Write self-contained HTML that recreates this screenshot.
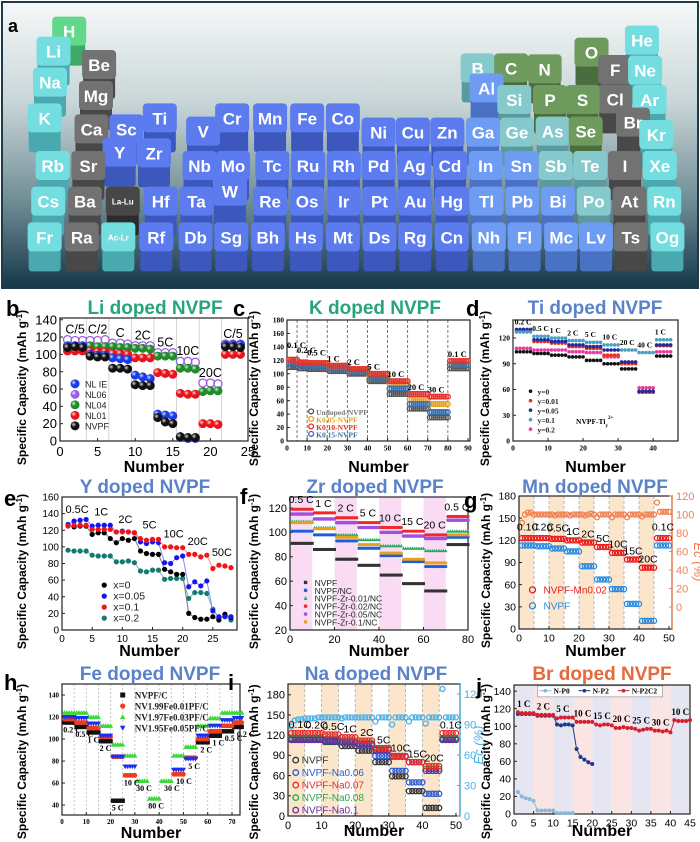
<!DOCTYPE html>
<html><head><meta charset="utf-8"><title>Doped NVPF</title>
<style>
html,body{margin:0;padding:0;background:#fff;}
svg{display:block;font-family:"Liberation Sans",sans-serif;}
</style></head>
<body>
<svg id="fig" width="700" height="842" viewBox="0 0 700 842" xmlns="http://www.w3.org/2000/svg">
<defs>
<linearGradient id="bgA" x1="0" y1="0" x2="0" y2="1">
<stop offset="0" stop-color="#f6f8f8"/><stop offset="0.35" stop-color="#c9d6d8"/><stop offset="0.7" stop-color="#6f8c94"/><stop offset="1" stop-color="#16384a"/>
</linearGradient>
<radialGradient id="shine" cx="0.35" cy="0.35" r="0.7"><stop offset="0" stop-color="#fff" stop-opacity="0.85"/><stop offset="0.4" stop-color="#fff" stop-opacity="0"/></radialGradient>
</defs>
<rect x="2" y="2" width="696" height="286" fill="url(#bgA)" stroke="#1c3c4c" stroke-width="2"/>
<g id="ptable"></g>
<text x="8" y="32" font-size="18" font-weight="bold">a</text>
</svg>
<script>
// ===== Chart data =====
const bSeriesNames=['NL IE','NL06','NL04','NL01','NVPF'];
const bNVPF=[108,109,108,98,97,97,84,84,83,65,64,64,27,22,20,5,4,4,null,null,null,109,109,108];
const bNL01=[104,104,104,104,103,103,101,101,100,96,96,96,79,78,77,55,54,54,20,20,19,100,100,100];
const bNL04=[110,110,110,110,109,109,109,108,108,107,107,106,98,98,98,84,84,83,57,58,58,110,110,110];
const bNL06=[117,116,116,116,116,117,113,113,112,110,110,110,102,102,102,92,92,91,67,67,66,112,112,112];
const bNLIE=[110,110,110,100,99,99,96,95,94,76,74,72,31,30,29,4,3,3,null,null,null,111,111,111];
const bRates=['C/5','C/2','C','2C','5C','10C','20C','C/5'];
const cStart=[1,6,11,21,31,41,51,61,71,81];
const cEnd=[5,10,20,30,40,50,60,70,80,90];
const cRates=['0.1 C','0.2 C','0.5 C','1 C','2 C','5 C','10 C','20 C','30 C','0.1 C'];
const cUndoped=[110,108,107,104,100,89,70,48,35,108];
const cK005=[118,116,114,110,105,97,85,62,55,115];
const cK010=[121,117,116,112,107,100,89,70,66,119];
const cK015=[115,112,111,108,103,92,78,55,43,113];
const dStart=[1,6,11,16,21,26,31,36,41];
const dEnd=[5,10,15,20,25,30,35,40,45];
const dRates=['0.2 C','0.5 C','1 C','2 C','5 C','10 C','20 C','40 C','1 C'];
const dY0=[104,102,100,98,94,90,84,57,99];
const dY001=[128,116,114,110,108,100,90,57,111];
const dY005=[130,118,116,112,110,106,92,58,112];
const dY01=[127,122,120,117,115,112,106,103,118];
const dY02=[108,106,106,104,103,98,92,62,104];
const eX0=[126,124,125,125,115,117,117,110,105,110,108,110,95,92,91,91,73,70,67,67,20,15,13,13,16,12,19,15];
const eX005=[127,131,132,133,125,126,126,126,118,119,118,117,106,104,106,105,81,80,87,89,52,58,53,59,23,16,16,16];
const eX01=[125,126,126,126,121,121,121,121,118,118,118,117,110,108,109,109,100,100,99,99,91,91,88,90,74,78,77,75];
const eX02=[96,95,95,95,90,89,89,89,82,82,83,81,71,70,72,72,61,62,62,62,38,45,45,44,25,15,17,12];
const eRates=['0.5C','1C','2C','5C','10C','20C','50C'];
const fStart=[1,11,21,31,41,51,61,71];
const fEnd=[10,20,30,40,50,60,70,80];
const fRates=['0.5 C','1 C','2 C','5 C','10 C','15 C','20 C','0.5 C'];
const fNVPF=[91,86,78,73,65,58,52,90];
const fNC=[101,98,93,87,81,76,72,96];
const fZr001=[109,104,98,94,89,87,85,101];
const fZr002=[119,116,112,108,104,101,98,113];
const fZr005=[115,111,108,104,100,97,95,110];
const fZr01=[108,103,96,90,83,78,75,98];
const gStart=[1,6,11,16,21,26,31,36,41,46];
const gEnd=[5,10,15,20,25,30,35,40,45,50];
const gRates=['0.1C','0.2C','0.5C','1C','2C','5C','10C','15C','20C','0.1C'];
const gMn=[123,123,122,120,117,111,103,94,83,123];
const gNVPF=[113,112,109,105,85,67,54,34,11,113];
const gEc=[91,100,102,102,100,100,100,100,100,100,100,99,100,100,100,100,99,100,100,100,100,99,100,101,100,97,100,100,100,100,97,100,100,100,100,97,100,100,100,100,98,100,100,100,100,113,103,103,103,103];
const hStart=[1,6,11,16,21,26,31,36,41,46,51,56,61,66,71];
const hEnd=[5,10,15,20,25,30,35,40,45,50,55,60,65,70,74];
const hRates=['0.2 C','0.5 C','1 C','2 C','5 C','10 C','30 C','80 C','30 C','10 C','5 C','2 C','1 C','0.5 C','0.2 C'];
const hNVPF=[115,111,106,98,44,null,null,null,null,null,null,97,103,107,111];
const hFe1=[118,115,110,102,84,67,null,null,null,68,83,100,107,112,115];
const hFe2=[124,124,120,112,95,85,62,46,62,85,93,112,119,124,124];
const hFe3=[120,119,114,103,84,75,null,null,null,72,82,103,112,117,119];
const iStart=[1,6,11,16,21,26,31,36,41,46];
const iEnd=[5,10,15,20,25,30,35,40,45,50];
const iRates=['0.1C','0.2C','0.5C','1C','2C','5C','10C','15C','20C','0.1C'];
const iNVPF=[114,114,110,104,97,80,59,37,12,114];
const iNa006=[113,113,111,109,105,89,67,50,33,113];
const iNa007=[123,123,121,117,112,101,89,80,74,123];
const iNa008=[116,116,114,112,108,100,89,80,70,116];
const iNa01=[113,113,112,110,107,98,88,80,67,113];
const iEc=[88,94,95,95,96,96,96,96,97,97,97,97,97,97,97,96,97,97,97,97,97,97,97,97,97,93,97,97,97,97,90,97,97,97,97,93,97,97,97,97,91,97,97,97,97,125,97,97,97,97];
const jRates=['1 C','2 C','5 C','10 C','15 C','20 C','25 C','30 C','10 C'];
const jP0=[25,20,18,17,15,4,4,4,4,4,1,1,1,1,1];
const jP2=[114,114,114,114,114,112,112,112,112,112,102,101,102,102,101,74,65,62,59,57];
const jP2C2=[116,115,115,115,115,113,113,113,113,113,109,110,110,110,110,105,105,105,105,105,102,101,102,102,101,98,98,99,98,98,97,95,96,97,97,95,95,94,95,93,107,106,106,106,107];

const NS='http://www.w3.org/2000/svg';
const svg=document.getElementById('fig');
function el(tag,parent){const e=document.createElementNS(NS,tag);parent.appendChild(e);return e;}
function at(e,o){for(const k in o)e.setAttribute(k,o[k]);return e;}
function txt(parent,x,y,s,o){const t=el('text',parent);at(t,Object.assign({x:x,y:y},o||{}));t.textContent=s;return t;}
function expand(st,en,vals){const p=[];for(let i=0;i<vals.length;i++){if(vals[i]==null)continue;for(let c=st[i];c<=en[i];c++)p.push([c,vals[i]]);}return p;}
function seq(vals){const p=[];vals.forEach((v,i)=>{if(v!=null)p.push([i+1,v]);});return p;}

const COL={cy:['#74dde0','#49a9ae'],te:['#86c9cc','#5a9a9e'],gr:['#6f9a5e','#4b6d3e'],ga:['#727272','#484848'],dk:['#474747','#2c2c2c'],lb:['#6e9cf3','#4a72c4'],bl:['#5b7bef','#3d58bd'],h:['#62d98a','#3fa866']};
const tiles=[['H',155,95,'h'],['He',1438,122,'cy'],
['Li',120,155,'cy'],['Be',222,195,'ga'],['B',1070,205,'te'],['C',1145,205,'gr'],['N',1220,208,'gr'],['O',1325,158,'gr'],['F',1378,210,'ga'],['Ne',1445,212,'cy'],
['Na',112,248,'cy'],['Mg',215,288,'ga'],['Al',1090,265,'lb'],['Si',1152,300,'te'],['P',1232,300,'gr'],['S',1305,300,'gr'],['Cl',1378,298,'ga'],['Ar',1455,300,'cy'],
['K',100,355,'cy'],['Ti',358,355,'bl'],['Cr',520,355,'bl'],['Mn',605,355,'bl'],['Fe',688,355,'bl'],['Co',768,355,'bl'],['Br',1418,368,'ga'],
['Ca',205,388,'ga'],['Sc',283,388,'bl'],['V',455,395,'bl'],['Ni',848,398,'bl'],['Cu',925,398,'bl'],['Zn',1002,398,'bl'],['Ga',1082,398,'lb'],['Ge',1158,398,'te'],['As',1238,395,'te'],['Se',1312,395,'gr'],['Kr',1470,405,'cy'],
['Y',268,458,'bl'],['Zr',345,460,'bl'],
['Rb',118,498,'cy'],['Sr',198,498,'ga'],['Nb',447,498,'bl'],['Mo',522,498,'bl'],['Tc',610,498,'bl'],['Ru',690,498,'bl'],['Rh',770,498,'bl'],['Pd',848,498,'bl'],['Ag',928,498,'bl'],['Cd',1008,498,'bl'],['In',1088,498,'lb'],['Sn',1168,498,'lb'],['Sb',1245,498,'te'],['Te',1322,498,'te'],['I',1400,498,'ga'],['Xe',1478,498,'cy'],
['W',515,575,'bl'],
['Cs',108,605,'cy'],['Ba',190,605,'ga'],['La-Lu',275,605,'dk'],['Hf',360,605,'bl'],['Ta',440,605,'bl'],['Re',605,605,'bl'],['Os',688,605,'bl'],['Ir',770,605,'bl'],['Pt',850,605,'bl'],['Au',930,605,'bl'],['Hg',1012,605,'bl'],['Tl',1090,605,'lb'],['Pb',1170,605,'lb'],['Bi',1250,605,'lb'],['Po',1330,605,'te'],['At',1410,605,'ga'],['Rn',1488,605,'cy'],
['Fr',100,712,'cy'],['Ra',183,712,'ga'],['Ac-Lr',265,712,'cy'],['Rf',350,712,'bl'],['Db',438,712,'bl'],['Sg',518,712,'bl'],['Bh',600,712,'bl'],['Hs',685,712,'bl'],['Mt',768,712,'bl'],['Ds',850,712,'bl'],['Rg',930,712,'bl'],['Cn',1012,712,'bl'],['Nh',1095,712,'lb'],['Fl',1175,712,'lb'],['Mc',1257,712,'lb'],['Lv',1335,712,'lb'],['Ts',1413,712,'ga'],['Og',1495,712,'cy']];
const pt=document.getElementById('ptable');
tiles.slice().sort((a,b)=>a[2]-b[2]).forEach(t=>{
  const cx=t[1]/2.24, cy=t[2]/3, c=COL[t[3]];
  const g=el('g',pt);
  
  
  const h=Math.min(42,286-(cy-8));
  at(el('rect',g),{x:cx-16,y:cy-8,width:32,height:h,rx:3,fill:c[1]});
  at(el('rect',g),{x:cx-17,y:cy-15,width:34,height:29,rx:4,fill:c[0]});
  const small=t[0].length>2;
  txt(g,cx,cy+(small?3:6),t[0],{'text-anchor':'middle','font-size':small?8:17,'font-weight':'bold',fill:'#fff'});
});

function panel(P){
  const g=el('g',svg);
  
  
  const sx=v=>P.L+(v-P.xmin)/(P.xmax-P.xmin)*(P.R-P.L);
  const sy=v=>P.B-(v-P.ymin)/(P.ymax-P.ymin)*(P.B-P.T);
  (P.shade||[]).forEach(s=>{
    const r=el('rect',g);at(r,{x:sx(s[0]),y:P.T,width:sx(s[1])-sx(s[0]),height:P.B-P.T,fill:s[2]});
    
    
  });
  (P.vlines||[]).forEach(v=>{
    const l=el('line',g);at(l,{x1:sx(v),x2:sx(v),y1:P.T,y2:P.B,stroke:P.vcol||'#999','stroke-width':0.8,'stroke-dasharray':P.vdash||'3,2'});
    
    
  });
  const box=el('rect',g);at(box,{x:P.L,y:P.T,width:P.R-P.L,height:P.B-P.T,fill:'none',stroke:'#222','stroke-width':1.2});
  
  
  const tf=P.tf||{};
  P.xt.forEach(v=>{
    at(el('line',g),{x1:sx(v),x2:sx(v),y1:P.B,y2:P.B-3,stroke:'#222','stroke-width':1});
    const t=txt(g,sx(v),P.B+P.fs+2,String(v),Object.assign({'text-anchor':'middle','font-size':P.fs},tf));
    
    
  });
  P.yt.forEach(v=>{
    at(el('line',g),{x1:P.L,x2:P.L+3,y1:sy(v),y2:sy(v),stroke:'#222','stroke-width':1});
    const t=txt(g,P.L-3,sy(v)+P.fs*0.35,String(v),Object.assign({'text-anchor':'end','font-size':P.fs},tf));
    
    
  });
  const xt=txt(g,(P.L+P.R)/2,P.xly,'Number',{'text-anchor':'middle','font-size':16,'font-weight':'bold'});
  
  
  const yc=(P.T+P.B)/2+(P.yoff||8);
  const yt=txt(g,P.ylx,yc,'',{'text-anchor':'middle','font-size':12,'font-weight':'bold',transform:'rotate(-90 '+P.ylx+' '+yc+')'});
  yt.innerHTML='Specific Capacity (mAh g<tspan dy="-4" font-size="8">-1</tspan><tspan dy="4">)</tspan>';
  
  
  const tt=txt(g,P.tx,P.ty,P.title,{'text-anchor':'middle','font-size':19,'font-weight':'bold',fill:P.tc});
  
  
  const pl=txt(g,P.lx,P.ly,P.letter,{'font-size':22,'font-weight':'bold'});
  
  
  return {g,sx,sy,P};
}
function mark(g,kind,x,y,col,r){
  let e;
  if(kind==='ball'){e=el('g',g);at(el('circle',e),{cx:x,cy:y,r:r,fill:col});at(el('circle',e),{cx:x,cy:y,r:r,fill:'url(#shine)'});}
  else if(kind==='open'){e=el('circle',g);at(e,{cx:x,cy:y,r:r,fill:'none',stroke:col,'stroke-width':1.3});}
  else if(kind==='dot'){e=el('circle',g);at(e,{cx:x,cy:y,r:r,fill:col});}
  else if(kind==='sq'){e=el('rect',g);at(e,{x:x-r,y:y-r,width:2*r,height:2*r,fill:col});}
  else if(kind==='tri'){e=el('polygon',g);at(e,{points:(x-r)+','+(y+r*0.8)+' '+(x+r)+','+(y+r*0.8)+' '+x+','+(y-r),fill:col});}
  else {e=el('polygon',g);at(e,{points:(x-r)+','+(y-r*0.8)+' '+(x+r)+','+(y-r*0.8)+' '+x+','+(y+r),fill:col});}
  
  
  return e;
}
function series(C,name,pts,kind,col,r,line,syf){
  const g=el('g',C.g);
  
  
  const fy=syf||C.sy;
  if(line){const pl=el('polyline',g);at(pl,{points:pts.map(p=>C.sx(p[0])+','+fy(p[1])).join(' '),fill:'none',stroke:line,'stroke-width':1});
    
    }
  pts.forEach(p=>mark(g,kind,C.sx(p[0]),fy(p[1]),col,r));
}
function rateLabels(C,labels,xs,ys,o){
  labels.forEach((s,i)=>{const t=txt(C.g,C.sx(xs[i]),C.sy(ys[i]),s,o);
    
    });
}
function legend(C,items,x,y,dy,o){
  items.forEach((it,i)=>{
    const g=el('g',C.g);
    
    
    mark(g,it[1],x,y+i*dy,it[2],it[3]);
    txt(g,x+(o.gap||10),y+i*dy+3.5,it[0],Object.assign({},o.t,{fill:it[4]||'#222'}));
  });
}
const SERIF={'font-family':'Liberation Serif,serif','font-weight':'bold'};
function maxAt(arrs,i){let m=-1e9;arrs.forEach(a=>{if(a[i]!=null&&a[i]>m)m=a[i];});return m;}
function minAt(arrs,i){let m=1e9;arrs.forEach(a=>{if(a[i]!=null&&a[i]<m)m=a[i];});return m;}

// b
(function(){
const C=panel({name:'chart-li-doped',L:60,R:248,T:318,B:441,xmin:0,xmax:25,ymin:0,ymax:142,xt:[0,5,10,15,20,25],yt:[0,20,40,60,80,100,120,140],fs:13,xly:472,ylx:26,title:'Li doped NVPF',tc:'#27a57a',tx:155,ty:314,letter:'b',lx:6,ly:316,
 vlines:[3.5,6.5,9.5,12.5,15.5,18.5,21.5],vcol:'#ccc',vdash:'none'});
series(C,'series-nl06',seq(bNL06),'open','#9b5de5',4);
series(C,'series-nl04',seq(bNL04),'ball','#1e8c2a',4.5);
series(C,'series-nl01',seq(bNL01),'ball','#e8141c',4.5);
series(C,'series-nlie',seq(bNLIE),'ball','#1a3be8',4.5);
series(C,'series-nvpf',seq(bNVPF),'ball','#111',4.5);
const all=[bNVPF,bNL01,bNL04,bNL06,bNLIE];
const g3=[];for(let i=0;i<8;i++){const a=[];all.forEach(s=>a.push(...s.slice(i*3,i*3+3)));g3.push(a);}
rateLabels(C,bRates,[2,5,8,11,14,17,20,23],g3.map(a=>Math.max(...a.filter(v=>v!=null))+7),{'text-anchor':'middle','font-size':12.5});
legend(C,[['NL IE','ball','#1a3be8',4.5],['NL06','ball','#9b5de5',4.5],['NL04','ball','#1e8c2a',4.5],['NL01','ball','#e8141c',4.5],['NVPF','ball','#111',4.5]],C.sx(2),C.sy(66),10.5,{gap:10,t:{'font-size':9}});
})();

// c
(function(){
const C=panel({name:'chart-k-doped',L:287,R:470,T:320,B:441,xmin:0,xmax:91,ymin:0,ymax:180,xt:[0,10,20,30,40,50,60,70,80,90],yt:[0,20,40,60,80,100,120,140,160,180],fs:7.5,tf:SERIF,xly:472,ylx:258,title:'K doped NVPF',tc:'#27a57a',tx:375,ty:314,letter:'c',lx:233,ly:316,
 vlines:[5,10,20,30,40,50,60,70,80],vcol:'#555'});
series(C,'series-undoped',expand(cStart,cEnd,cUndoped),'open','#555',2.4);
series(C,'series-k005',expand(cStart,cEnd,cK005),'open','#e8a020',2.4);
series(C,'series-k015',expand(cStart,cEnd,cK015),'open','#3a6ea8',2.4);
series(C,'series-k010',expand(cStart,cEnd,cK010),'open','#e8302c',2.4);
const arr=[cUndoped,cK005,cK010,cK015];
rateLabels(C,cRates,cStart.map(s=>s-1),cRates.map((s,i)=>maxAt(arr,i)+(i<3?17-i*3:6)),Object.assign({'font-size':8.5},SERIF));
legend(C,[['Undoped-NVPF','open','#555',2.4,'#777'],['K0.05-NVPF','open','#e8a020',2.4,'#e8a020'],['K0.10-NVPF','open','#e8302c',2.4,'#e8302c'],['K0.15-NVPF','open','#3a6ea8',2.4,'#3a6ea8']],C.sx(12),C.sy(44),7.5,{gap:5,t:Object.assign({'font-size':7.5},SERIF)});
})();

// d
(function(){
const C=panel({name:'chart-ti-doped',L:513,R:678,T:320,B:441,xmin:0,xmax:47.1,ymin:0,ymax:141,xt:[0,10,20,30,40],yt:[0,30,60,90,120],fs:7.5,tf:SERIF,xly:472,ylx:489,title:'Ti doped NVPF',tc:'#5a82c8',tx:595,ty:314,letter:'d',lx:466,ly:316});
series(C,'series-y0',expand(dStart,dEnd,dY0),'dot','#111',1.8);
series(C,'series-y02',expand(dStart,dEnd,dY02),'dot','#e83ca0',1.8);
series(C,'series-y001',expand(dStart,dEnd,dY001),'dot','#e8301c',1.8);
series(C,'series-y005',expand(dStart,dEnd,dY005),'dot','#1c2ca0',1.8);
series(C,'series-y01',expand(dStart,dEnd,dY01),'dot','#4aa0c0',1.8);
const arr=[dY0,dY001,dY005,dY01,dY02];
rateLabels(C,dRates,dStart.map(s=>s-0.5),dRates.map((s,i)=>maxAt(arr,i)+6),Object.assign({'font-size':7.5},SERIF));
legend(C,[['y=0','dot','#111',1.8],['y=0.01','dot','#e8301c',1.8],['y=0.05','dot','#1c2ca0',1.8],['y=0.1','dot','#4aa0c0',1.8],['y=0.2','dot','#e83ca0',1.8]],C.sx(5),C.sy(58),9.5,{gap:7,t:Object.assign({'font-size':7.5},SERIF)});
const t=txt(C.g,C.sx(18),C.sy(20),'NVPF-Ti',Object.assign({'font-size':7.5},SERIF));
t.innerHTML='NVPF-Ti<tspan dy="3" font-size="5">y</tspan><tspan dy="-8" font-size="5">2+</tspan>';


})();

// e
(function(){
const C=panel({name:'chart-y-doped',L:62,R:237,T:497,B:630,xmin:0,xmax:29,ymin:0,ymax:160,xt:[0,5,10,15,20,25],yt:[0,20,40,60,80,100,120,140,160],fs:10,xly:656,ylx:26,title:'Y doped NVPF',tc:'#5a82c8',tx:145,ty:493,letter:'e',lx:4,ly:506});
series(C,'series-x02',seq(eX02),'dot','#127a70',2.6,'#7ab8b0');
series(C,'series-x0',seq(eX0),'dot','#000',2.6,'#777');
series(C,'series-x005',seq(eX005),'dot','#1414f0',2.6,'#8888ff');
series(C,'series-x01',seq(eX01),'dot','#f01414',2.6,'#ff9090');
const arr=[eX0,eX005,eX01,eX02];
const mx=eRates.map((s,i)=>{let m=0;arr.forEach(a=>a.slice(i*4,i*4+4).forEach(v=>{if(v>m)m=v;}));return m;});
rateLabels(C,eRates,eRates.map((s,i)=>i*4+2.5),mx.map((m,i)=>m+(i===0?8:i===2?10:i>=4?11:12)),{'text-anchor':'middle','font-size':11});
legend(C,[['x=0','dot','#000',2.6],['x=0.05','dot','#1414f0',2.6],['x=0.1','dot','#f01414',2.6],['x=0.2','dot','#127a70',2.6]],C.sx(7),C.sy(54),11,{gap:9,t:{'font-size':10.5}});
})();

// f
(function(){
const C=panel({name:'chart-zr-doped',L:290,R:468,T:497,B:630,xmin:0,xmax:80,ymin:20,ymax:129,xt:[0,20,40,60,80],yt:[20,40,60,80,100,120],fs:11,xly:656,ylx:258,title:'Zr doped NVPF',tc:'#5a82c8',tx:375,ty:493,letter:'f',lx:240,ly:504,
 shade:[[0,10,'#f9dcf4'],[20,30,'#f9dcf4'],[40,50,'#f9dcf4'],[60,70,'#f9dcf4']]});
series(C,'series-nvpf',expand(fStart,fEnd,fNVPF),'sq','#333',1.5);
series(C,'series-nvpf-nc',expand(fStart,fEnd,fNC),'dot','#1a5ee0',1.6);
series(C,'series-zr001',expand(fStart,fEnd,fZr001),'tri','#2aa860',1.8);
series(C,'series-zr01',expand(fStart,fEnd,fZr01),'dot','#e8a020',1.6);
series(C,'series-zr005',expand(fStart,fEnd,fZr005),'dot','#a050e0',1.8);
series(C,'series-zr002',expand(fStart,fEnd,fZr002),'dot','#f02828',1.6);
const arr=[fNVPF,fNC,fZr001,fZr002,fZr005,fZr01];
rateLabels(C,fRates,fStart.map(s=>s+4),fRates.map((s,i)=>maxAt(arr,i)+5),{'text-anchor':'middle','font-size':10.5});
legend(C,[['NVPF','sq','#333',1.7],['NVPF/NC','dot','#1a5ee0',1.8],['NVPF-Zr-0.01/NC','tri','#2aa860',2],['NVPF-Zr-0.02/NC','dot','#f02828',1.8],['NVPF-Zr-0.05/NC','dot','#a050e0',1.8],['NVPF-Zr-0.1/NC','dot','#e8a020',1.8]],C.sx(7),C.sy(59),7.9,{gap:9,t:{'font-size':8.5}});
})();

// g
(function(){
const C=panel({name:'chart-mn-doped',L:519,R:672,T:496,B:629,xmin:0,xmax:51,ymin:0,ymax:180,xt:[0,10,20,30,40,50],yt:[0,30,60,90,120,150,180],fs:10.5,xly:656,ylx:490,title:'Mn doped NVPF',tc:'#5a82c8',tx:595,ty:493,letter:'g',lx:464,ly:508,
 shade:[[0,5,'#fbe6cc'],[10,15,'#fbe6cc'],[20,25,'#fbe6cc'],[30,35,'#fbe6cc'],[40,45,'#fbe6cc']],vlines:[0,5,10,15,20,25,30,35,40,45],vcol:'#aaa'});
const ry=v=>607-v*(111/120);
at(el('line',C.g),{x1:C.P.R,x2:C.P.R,y1:C.P.T,y2:C.P.B,stroke:'#f08050','stroke-width':1.3});
[0,20,40,60,80,100,120].forEach(v=>{
  at(el('line',C.g),{x1:C.P.R-3,x2:C.P.R,y1:ry(v),y2:ry(v),stroke:'#f08050'});
  const t=txt(C.g,C.P.R+4,ry(v)+4,String(v),{'font-size':11,fill:'#f08050'});
  
  
});
const ec=txt(C.g,694,562,'Ec (%)',{'font-size':13,fill:'#f08050','font-style':'italic','text-anchor':'middle',transform:'rotate(90 694 562)'});


series(C,'series-nvpf',expand(gStart,gEnd,gNVPF),'open','#2a8ae0',2.6);
series(C,'series-nvpf-mn',expand(gStart,gEnd,gMn),'open','#e81c1c',2.6);
series(C,'series-coulombic-efficiency',seq(gEc),'open','#f08050',2.5,null,ry);
rateLabels(C,gRates,gStart.map(s=>s+2),gRates.map((s,i)=>gMn[i]+(i<3||i===9?10:7)),{'text-anchor':'middle','font-size':10.5});
legend(C,[['NVPF-Mn0.02','open','#e81c1c',3,'#e81c1c'],['NVPF','open','#2a8ae0',3,'#2a8ae0']],C.sx(4.5),C.sy(53),16,{gap:11,t:{'font-size':10}});
})();

// h
(function(){
const C=panel({name:'chart-fe-doped',L:62,R:240,T:684,B:815,xmin:0,xmax:73.3,ymin:31,ymax:150,xt:[0,10,20,30,40,50,60,70],yt:[40,60,80,100,120,140],fs:7,tf:SERIF,xly:838,ylx:26,yoff:12,title:'Fe doped NVPF',tc:'#5a82c8',tx:150,ty:680,letter:'h',lx:4,ly:690,
 vlines:[5,10,15,20,25,30,35,40,45,50,55,60,65,70],vcol:'#bbb',vdash:'2,2'});
series(C,'series-nvpf-c',expand(hStart,hEnd,hNVPF),'sq','#111',2.2);
series(C,'series-fe001',expand(hStart,hEnd,hFe1),'dot','#f03c1c',2.4);
series(C,'series-fe002',expand(hStart,hEnd,hFe2),'tri','#3cd83c',2.6);
series(C,'series-fe005',expand(hStart,hEnd,hFe3),'dtri','#1c30f0',2.6);
const arr=[hNVPF,hFe1,hFe2,hFe3];
rateLabels(C,hRates,hStart.map((s,i)=>s+(i<8?-0.5:1)),hRates.map((s,i)=>minAt(arr,i)-9),Object.assign({'font-size':8},SERIF));
const lg=[['NVPF/C','sq','#111',2.5],['NV1.99Fe0.01PF/C','dot','#f03c1c',2.6],['NV1.97Fe0.03PF/C','tri','#3cd83c',2.8],['NV1.95Fe0.05PF/C','dtri','#1c30f0',2.8]];
legend(C,lg,C.sx(25),C.sy(140),11,{gap:12,t:Object.assign({'font-size':9},SERIF)});
})();

// i
(function(){
const C=panel({name:'chart-na-doped',L:288,R:460,T:684,B:816,xmin:0,xmax:51.2,ymin:0,ymax:196,xt:[0,10,20,30,40,50],yt:[0,30,60,90,120,150,180],fs:11,xly:836,ylx:258,yoff:12,title:'Na doped NVPF',tc:'#5a82c8',tx:376,ty:680,letter:'i',lx:228,ly:690,
 shade:[[0,5,'#fbe6cc'],[10,15,'#fbe6cc'],[20,25,'#fbe6cc'],[30,35,'#fbe6cc'],[40,45,'#fbe6cc']],vlines:[0,5,10,15,20,25,30,35,40,45],vcol:'#aaa'});
const ry=v=>816-v*(122/120);
at(el('line',C.g),{x1:C.P.R,x2:C.P.R,y1:C.P.T,y2:C.P.B,stroke:'#4ab0e8','stroke-width':1.3});
[0,30,60,90,120].forEach(v=>{
  at(el('line',C.g),{x1:C.P.R-3,x2:C.P.R,y1:ry(v),y2:ry(v),stroke:'#4ab0e8'});
  const t=txt(C.g,C.P.R+4,ry(v)+4,String(v),{'font-size':11,fill:'#4ab0e8'});
  
  
});
const ec=txt(C.g,483,745,'Ec (%)',{'font-size':13,fill:'#4ab0e8','font-style':'italic','text-anchor':'middle',transform:'rotate(-90 483 745)'});


series(C,'series-nvpf',expand(iStart,iEnd,iNVPF),'open','#333',2.6);
series(C,'series-na006',expand(iStart,iEnd,iNa006),'open','#2a5ad0',2.6);
series(C,'series-na008',expand(iStart,iEnd,iNa008),'open','#2aa840',2.6);
series(C,'series-na01',expand(iStart,iEnd,iNa01),'open','#6a2aa0',2.6);
series(C,'series-na007',expand(iStart,iEnd,iNa007),'open','#e82a2a',2.6);
series(C,'series-coulombic-efficiency',seq(iEc),'open','#4ab0e8',2.5,null,ry);
const arr=[iNVPF,iNa006,iNa007,iNa008,iNa01];
rateLabels(C,iRates,iStart.map(s=>s+2.5),iRates.map((s,i)=>maxAt(arr,i)+(i===0?8:7)),{'text-anchor':'middle','font-size':10.5});
legend(C,[['NVPF','open','#333',2.8,'#333'],['NVPF-Na0.06','open','#2a5ad0',2.8,'#2a5ad0'],['NVPF-Na0.07','open','#e82a2a',2.8,'#e82a2a'],['NVPF-Na0.08','open','#2aa840',2.8,'#2aa840'],['NVPF-Na0.1','open','#6a2aa0',2.8,'#6a2aa0']],C.sx(2.3),C.sy(83),12.5,{gap:6,t:{'font-size':10}});
})();

// j
(function(){
const sh=[];for(let k=0;k<9;k++)sh.push([k*5,k*5+5,k%2?'#fbe4e4':'#e6e6f2']);
const C=panel({name:'chart-br-doped',L:514,R:690,T:685,B:814,xmin:0,xmax:45,ymin:0,ymax:147,xt:[0,5,10,15,20,25,30,35,40,45],yt:[0,20,40,60,80,100,120,140],fs:10.5,xly:836,ylx:490,yoff:12,title:'Br doped NVPF',tc:'#e8683a',tx:602,ty:680,letter:'j',lx:476,ly:694,shade:sh});
series(C,'series-n-p0',seq(jP0),'dot','#8ab8d8',2,'#8ab8d8');
series(C,'series-n-p2',seq(jP2),'dot','#1c3a8a',2,'#1c3a8a');
series(C,'series-n-p2c2',seq(jP2C2),'dot','#d8202c',2,'#d8202c');
const arr=[jP0,jP2,jP2C2];
const mx=jRates.map((s,i)=>{let m=0;arr.forEach(a=>a.slice(i*5,i*5+5).forEach(v=>{if(v>m)m=v;}));return m;});
rateLabels(C,jRates,jRates.map((s,i)=>i*5+2.5),mx.map(m=>m+6),Object.assign({'text-anchor':'middle','font-size':9},SERIF));
const lb=el('rect',C.g);at(lb,{x:C.sx(6),y:C.sy(146),width:C.sx(38)-C.sx(6),height:11,fill:'#fff',stroke:'#888','stroke-width':0.6});


[['N-P0','#8ab8d8',6.5],['N-P2','#1c3a8a',16.5],['N-P2C2','#d8202c',26.5]].forEach(it=>{
  const g=el('g',C.g);
  
  
  at(el('line',g),{x1:C.sx(it[2]),x2:C.sx(it[2]+3),y1:C.sy(140.5),y2:C.sy(140.5),stroke:it[1]});
  mark(g,'dot',C.sx(it[2]+1.5),C.sy(140.5),it[1],1.8);
  txt(g,C.sx(it[2]+3.6),C.sy(140.5)+3,it[0],Object.assign({'font-size':7.5},SERIF));
});
})();
</script>
</body></html>
